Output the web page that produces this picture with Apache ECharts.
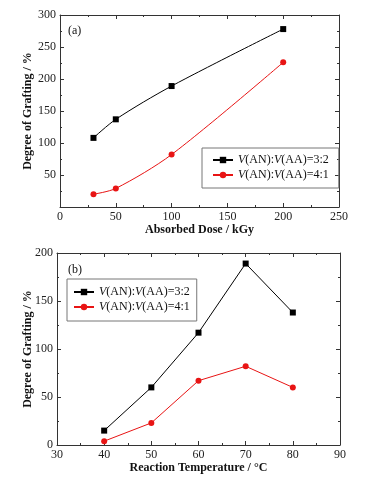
<!DOCTYPE html>
<html>
<head>
    <meta charset="utf-8">
    <script type="text/javascript" src="https://cdn.jsdelivr.net/npm/echarts@6/dist/echarts.min.js"></script>
    <title>Degree of Grafting</title>
</head>
<body style="margin:0;background:#fff;">
    <div id="container" style="width:380px;height:490px;"></div>
    <script type="text/javascript">
    // (a) dose
    var doseX = [30, 50, 100, 200];
    var doseA = [108, 137, 189, 278];   // 3:2
    var doseB = [20, 29, 82, 226];      // 4:1
    // (b) temperature
    var tempX = [40, 50, 60, 70, 80];
    var tempA = [15, 60, 117, 189, 138];
    var tempB = [4, 23, 67, 82, 60];
    var names = ['V(AN):V(AA)=3:2', 'V(AN):V(AA)=4:1'];

    var myChart = echarts.init(document.getElementById('container'));
    var serif = 'Liberation Serif';
    var axisCol = '#333';

    function pairs(xs, ys) {
        return xs.map(function (x, i) { return [x, ys[i]]; });
    }

    // 一个图的四条轴（上、右镜像当边框）
    function xAxes(grid, min, max, interval, name, nameGap) {
        var base = {
            type: 'value', gridIndex: grid, min: min, max: max, interval: interval,
            axisLine: { show: true, onZero: false, lineStyle: { color: axisCol, width: 1 } },
            axisTick: { show: true, inside: true, length: 4, lineStyle: { color: axisCol } },
            minorTick: { show: true, splitNumber: 2, length: 2, lineStyle: { color: axisCol } },
            splitLine: { show: false }
        };
        return [
            Object.assign({}, base, {
                position: 'bottom', name: name, nameLocation: 'middle', nameGap: nameGap,
                nameMoveOverlap: false,
                nameTextStyle: { fontFamily: serif, fontWeight: 'bold', fontSize: 12, color: '#111' },
                axisLabel: { fontFamily: serif, fontSize: 12, color: '#222', margin: 4 }
            }),
            Object.assign({}, base, { position: 'top', axisLabel: { show: false } })
        ];
    }
    function yAxes(grid, min, max, interval, showMin, nameGap) {
        var base = {
            type: 'value', gridIndex: grid, min: min, max: max, interval: interval,
            axisLine: { show: true, onZero: false, lineStyle: { color: axisCol, width: 1 } },
            axisTick: { show: true, inside: true, length: 4, lineStyle: { color: axisCol } },
            minorTick: { show: true, splitNumber: 2, length: 2, lineStyle: { color: axisCol } },
            splitLine: { show: false }
        };
        return [
            Object.assign({}, base, {
                position: 'left', name: 'Degree of Grafting / %', nameLocation: 'middle', nameGap: nameGap,
                nameMoveOverlap: false,
                nameTextStyle: { fontFamily: serif, fontWeight: 'bold', fontSize: 12, color: '#111' },
                axisLabel: { fontFamily: serif, fontSize: 12, color: '#222', margin: 4, showMinLabel: showMin }
            }),
            Object.assign({}, base, { position: 'right', axisLabel: { show: false } })
        ];
    }

    function legendFmt(name) {
        var p = name.split(':V');
        return '{i|V}(AN):{i|V}' + p[1];
    }
    var legendBase = {
        orient: 'vertical',
        borderColor: '#777', borderWidth: 1,
        itemWidth: 20, itemHeight: 8, itemGap: 3,
        formatter: legendFmt,
        textStyle: {
            fontFamily: serif, fontSize: 12, color: '#111',
            rich: { i: { fontFamily: serif, fontSize: 12, fontStyle: 'italic', color: '#111' } }
        }
    };

    var black = '#000';
    var red = '#e81414';
    function line(name, data, color, sym, xi, yi, smooth) {
        return {
            name: name, type: 'line', data: data, xAxisIndex: xi, yAxisIndex: yi,
            smooth: smooth, symbol: sym, symbolSize: 6,
            itemStyle: { color: color }, lineStyle: { color: color, width: 1 }
        };
    }

    var option = {
        animation: false,
        backgroundColor: '#fff',
        title: [
            { text: '(a)', left: 63, top: 20, textStyle: { fontFamily: serif, fontSize: 12, fontWeight: 'normal', color: '#111' } },
            { text: '(b)', left: 63, top: 259, textStyle: { fontFamily: serif, fontSize: 12, fontWeight: 'normal', color: '#111' } }
        ],
        legend: [
            Object.assign({}, legendBase, { left: 202, top: 148, padding: [6, 10, 7, 10], data: [names[0], names[1]] }),
            Object.assign({}, legendBase, { left: 67, top: 279, padding: [7, 4, 8, 6], data: [names[0] + ' ', names[1] + ' '] })
        ],
        grid: [
            { left: 60, right: 41, top: 15, height: 192, outerBoundsMode: 'none' },
            { left: 57, right: 40, top: 253, height: 192, outerBoundsMode: 'none' }
        ],
        xAxis: xAxes(0, 0, 250, 50, 'Absorbed Dose / kGy', 17)
            .concat(xAxes(1, 30, 90, 10, 'Reaction Temperature / \u00b0C', 17)),
        yAxis: yAxes(0, 0, 300, 50, false, 26)
            .concat(yAxes(1, 0, 200, 50, true, 23)),
        series: [
            line(names[0], pairs(doseX, doseA), black, 'rect', 0, 0, 0.3),
            line(names[1], pairs(doseX, doseB), red, 'circle', 0, 0, 0.3),
            line(names[0] + ' ', pairs(tempX, tempA), black, 'rect', 2, 2, false),
            line(names[1] + ' ', pairs(tempX, tempB), red, 'circle', 2, 2, false)
        ]
    };

    myChart.setOption(option);
    </script>
</body>
</html>
